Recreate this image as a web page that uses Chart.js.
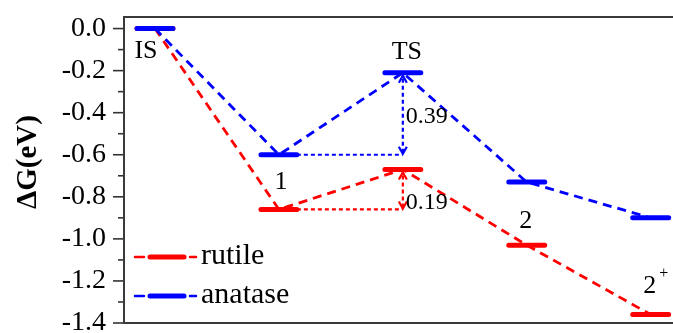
<!DOCTYPE html>
<html>
<head>
<meta charset="utf-8">
<script src="https://cdn.jsdelivr.net/npm/chart.js@4/dist/chart.umd.min.js"></script>
<style>
  html, body { margin: 0; padding: 0; background: #fff; }
  #wrap { width: 673px; height: 333px; }
</style>
</head>
<body>
<div id="wrap"><canvas id="chart" width="673" height="333"></canvas></div>
<script>
// free energy profile, rutile vs anatase
const stages = ["IS", "1", "TS", "2", "2+"];
const stageX = [0, 1, 2, 3, 4];
const rutile = [0.0, -0.86, -0.67, -1.03, -1.36];
const anatase = [0.0, -0.60, -0.21, -0.73, -0.90];
const seriesNames = ["rutile", "anatase"];
const yAxisTitle = "ΔG(eV)";

const RED = "#ff0000";
const BLUE = "#0000ff";
const SERIF = '"Liberation Serif", "Times New Roman", serif';
const HALF = 0.145; // half width of a level bar, in x units

function levelPoints(vals) {
  const pts = [];
  stageX.forEach((x, i) => {
    pts.push({ x: x - HALF, y: vals[i] });
    pts.push({ x: x + HALF, y: vals[i] });
    pts.push({ x: x + HALF, y: null });
  });
  return pts;
}
function linkPoints(vals) {
  return stageX.map((x, i) => ({ x: x, y: vals[i] }));
}

function arrowHead(ctx, x, y, dir) {
  // dir: -1 up, 1 down
  ctx.beginPath();
  ctx.moveTo(x - 4, y - dir * 7);
  ctx.lineTo(x, y);
  ctx.lineTo(x + 4, y - dir * 7);
  ctx.stroke();
}

const decorations = {
  id: "decorations",
  afterDatasetsDraw(chart) {
    const { ctx, scales } = chart;
    const xs = scales.x, ys = scales.y;

    // barrier arrows from intermediate 1 to TS
    const pairs = [
      { vals: anatase, color: BLUE, dy: 3 },
      { vals: rutile, color: RED, dy: 13 }
    ];
    pairs.forEach(p => {
      const x0 = xs.getPixelForValue(stageX[1] + HALF);
      const xt = xs.getPixelForValue(stageX[2]);
      const yLow = ys.getPixelForValue(p.vals[1]);
      const yHigh = ys.getPixelForValue(p.vals[2]);
      ctx.save();
      ctx.strokeStyle = p.color;
      ctx.lineWidth = 2.2;
      ctx.setLineDash([4, 3]);
      ctx.beginPath();
      ctx.moveTo(x0, yLow);
      ctx.lineTo(xt, yLow);
      ctx.moveTo(xt, yLow - 2);
      ctx.lineTo(xt, yHigh + 2);
      ctx.stroke();
      ctx.setLineDash([]);
      arrowHead(ctx, xt, yHigh + 3, -1);
      arrowHead(ctx, xt, yLow - 1, 1);
      ctx.fillStyle = "#000";
      ctx.font = "24px " + SERIF;
      ctx.textAlign = "left";
      ctx.textBaseline = "middle";
      const barrier = (p.vals[2] - p.vals[1]).toFixed(2);
      ctx.fillText(barrier, xt + 3, (yLow + yHigh) / 2 + p.dy);
      ctx.restore();
    });

    // stage labels
    ctx.save();
    ctx.fillStyle = "#000";
    ctx.font = "26px " + SERIF;
    ctx.textAlign = "center";
    ctx.textBaseline = "middle";
    const px = i => xs.getPixelForValue(stageX[i]);
    ctx.fillText(stages[0], px(0) - 9, ys.getPixelForValue(anatase[0]) + 23);
    ctx.fillText(stages[1], px(1) + 2, (ys.getPixelForValue(anatase[1]) + ys.getPixelForValue(rutile[1])) / 2);
    ctx.fillText(stages[2], px(2) + 4, ys.getPixelForValue(anatase[2]) - 21);
    ctx.fillText(stages[3], px(3) - 1, ys.getPixelForValue(rutile[3]) - 24);
    const s4 = stages[4];
    const yr4 = ys.getPixelForValue(rutile[4]);
    ctx.fillText(s4.charAt(0), px(4) - 1, yr4 - 28);
    ctx.font = "16px " + SERIF;
    ctx.fillText(s4.slice(1), px(4) + 13, yr4 - 41);
    ctx.restore();
  },
  afterDraw(chart) {
    const { ctx, chartArea: a, scales } = chart;
    const ys = scales.y;

    // ticks, major every 0.2 and minor in between
    ctx.save();
    ctx.strokeStyle = "#333";
    ctx.lineWidth = 1.6;
    ys.ticks.forEach(t => {
      const y = ys.getPixelForValue(t.value);
      const major = Math.round(t.value * 10) % 2 === 0;
      ctx.beginPath();
      ctx.moveTo(a.left - (major ? 11 : 6), y);
      ctx.lineTo(a.left, y);
      ctx.stroke();
    });

    // frame
    ctx.strokeStyle = "#3a3a3a";
    ctx.lineWidth = 2;
    ctx.strokeRect(a.left, a.top, a.right - a.left + 4, a.bottom - a.top);

    // axis title
    ctx.fillStyle = "#000";
    ctx.font = "bold 29px " + SERIF;
    ctx.textAlign = "center";
    ctx.textBaseline = "middle";
    ctx.translate(29, (a.top + a.bottom) / 2 - 8);
    ctx.rotate(-Math.PI / 2);
    ctx.fillText(yAxisTitle, 0, 0);
    ctx.restore();

    // legend inside the plot
    ctx.save();
    [RED, BLUE].forEach((c, i) => {
      const y = a.bottom - 66 + i * 39;
      const x = a.left + 11;
      ctx.strokeStyle = c;
      ctx.lineCap = "round";
      ctx.lineWidth = 2.5;
      ctx.beginPath();
      ctx.moveTo(x, y); ctx.lineTo(x + 9, y);
      ctx.moveTo(x + 55, y); ctx.lineTo(x + 61, y);
      ctx.stroke();
      ctx.lineWidth = 5;
      ctx.beginPath();
      ctx.moveTo(x + 15, y); ctx.lineTo(x + 49, y);
      ctx.stroke();
      ctx.fillStyle = "#000";
      ctx.font = "30px " + SERIF;
      ctx.textAlign = "left";
      ctx.textBaseline = "middle";
      ctx.fillText(seriesNames[i], x + 66, y - 1);
    });
    ctx.restore();
  }
};

new Chart(document.getElementById("chart"), {
  type: "scatter",
  data: {
    datasets: [
      {
        label: "anatase levels",
        data: levelPoints(anatase),
        showLine: true, spanGaps: false,
        borderColor: BLUE, borderWidth: 5, borderCapStyle: "round",
        pointRadius: 0
      },
      {
        label: "rutile levels",
        data: levelPoints(rutile),
        showLine: true, spanGaps: false,
        borderColor: RED, borderWidth: 5, borderCapStyle: "round",
        pointRadius: 0
      },
      {
        label: seriesNames[1],
        data: linkPoints(anatase),
        showLine: true,
        borderColor: BLUE, borderWidth: 2.8, borderDash: [9, 6],
        pointRadius: 0
      },
      {
        label: seriesNames[0],
        data: linkPoints(rutile),
        showLine: true,
        borderColor: RED, borderWidth: 2.8, borderDash: [9, 6],
        pointRadius: 0
      }
    ]
  },
  options: {
    responsive: false,
    animation: false,
    layout: { padding: { top: 17, bottom: 10, left: 0, right: 0 } },
    plugins: { legend: { display: false }, tooltip: { enabled: false } },
    scales: {
      x: { type: "linear", display: false, min: -0.25, max: 4.18 },
      y: {
        min: -1.40001,
        max: 0.055,
        border: { display: false },
        grid: { drawOnChartArea: false, tickLength: 12, color: "rgba(0,0,0,0)", tickColor: "rgba(0,0,0,0)" },
        ticks: {
          stepSize: 0.1,
          autoSkip: false,
          includeBounds: false,
          padding: 6,
          color: "#000",
          font: { family: SERIF, size: 28 },
          callback: function (v) {
            const k = Math.round(v * 10);
            if (k % 2 !== 0) return "";
            return k === 0 ? "0.0" : (k / 10).toFixed(1);
          }
        },
        afterFit(scale) {
          scale.width = 124;
          scale.paddingTop = 0;
          scale.paddingBottom = 0;
        }
      }
    }
  },
  plugins: [decorations]
});
</script>
</body>
</html>
